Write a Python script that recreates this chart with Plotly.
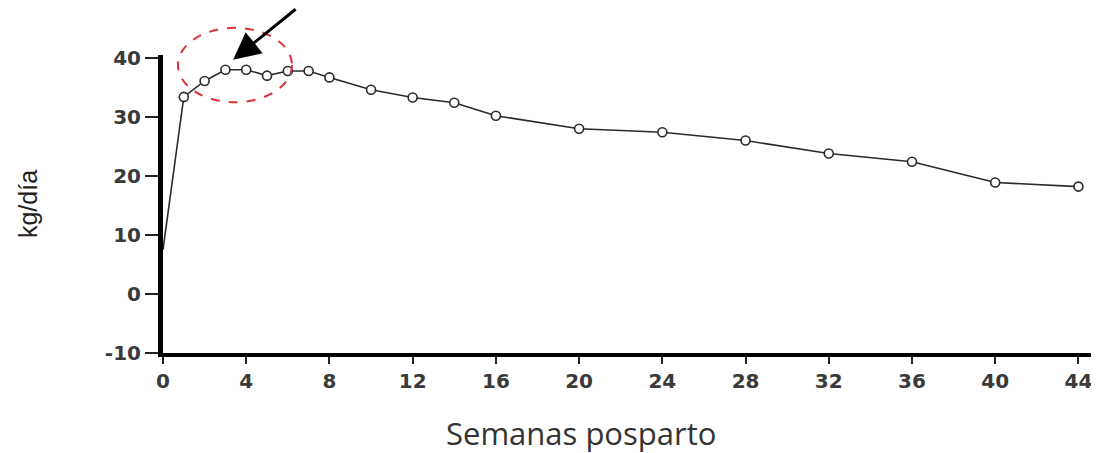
import plotly.graph_objects as go

# ---- data ----
weeks = [0, 1, 2, 3, 4, 5, 6, 7, 8, 10, 12, 14, 16, 20, 24, 28, 32, 36, 40, 44]
kg_dia = [7.5, 33.4, 36.1, 38.0, 38.0, 37.0, 37.8, 37.8, 36.7, 34.6, 33.3,
          32.4, 30.2, 28.0, 27.4, 26.0, 23.8, 22.4, 18.9, 18.2]
x_ticks = [0, 4, 8, 12, 16, 20, 24, 28, 32, 36, 40, 44]
y_ticks = [-10, 0, 10, 20, 30, 40]
x_title = "Semanas posparto"
y_title = "kg/día"
# highlighted peak region (weeks, kg/día)
peak_x = [0.72, 6.2]
peak_y = [32.5, 45.1]
arrow_tip = [3.37, 39.7]

x_range = [0, 44.7]
y_range = [-10, 40.5]


def ypaper(v):
    return (v - y_range[0]) / (y_range[1] - y_range[0])


fig = go.Figure()
# connecting line (first point has no marker)
fig.add_trace(go.Scatter(
    x=weeks, y=kg_dia, mode="lines",
    line=dict(color="#2a2a2a", width=1.6),
    hoverinfo="skip", cliponaxis=False, showlegend=False))
fig.add_trace(go.Scatter(
    x=weeks[1:], y=kg_dia[1:], mode="markers",
    marker=dict(symbol="circle", size=9, color="white",
                line=dict(color="#2a2a2a", width=1.6)),
    cliponaxis=False, showlegend=False))

fig.add_shape(type="circle", xref="x", yref="paper",
              x0=peak_x[0], x1=peak_x[1],
              y0=ypaper(peak_y[0]), y1=ypaper(peak_y[1]),
              line=dict(color="#e0303a", width=2, dash="dash"),
              fillcolor="rgba(0,0,0,0)")

fig.add_annotation(x=arrow_tip[0], y=arrow_tip[1], xref="x", yref="y",
                   ax=64, ay=-64, showarrow=True, arrowhead=2,
                   arrowsize=1.8, arrowwidth=3, arrowcolor="black", text="")

# x-axis title (sits left of the plot centre in the reference)
fig.add_annotation(text=x_title, xref="paper", yref="paper",
                   x=0.449, y=-0.268, xanchor="center", yanchor="middle",
                   showarrow=False, borderpad=0,
                   font=dict(family="Open Sans", size=31, color="#333"))

tick_font = dict(family="DejaVu Sans", size=20, color="#3a3a3a", weight="bold")

fig.update_xaxes(range=x_range, tickvals=x_ticks,
                 ticktext=[str(t) for t in x_ticks],
                 showgrid=False, zeroline=False,
                 showline=True, linecolor="black", linewidth=4,
                 ticks="outside", ticklen=7, tickwidth=2, tickcolor="#222",
                 tickfont=tick_font)
fig.update_yaxes(range=y_range, tickvals=y_ticks,
                 ticktext=[str(t) for t in y_ticks],
                 showgrid=False, zeroline=False,
                 showline=True, linecolor="black", linewidth=5,
                 ticks="outside", ticklen=13, tickwidth=1.5, tickcolor="#222",
                 tickfont=tick_font,
                 title=dict(text=y_title, standoff=62,
                            font=dict(family="Liberation Sans Narrow, Liberation Sans",
                                      size=25, color="#222")))

# the page body adds an 8px offset, so the figure is 8px smaller on each axis
fig.update_layout(width=1091, height=445,
                  margin=dict(l=155, r=6, t=47, b=100),
                  plot_bgcolor="white", paper_bgcolor="white")

fig.write_html("out.html")
